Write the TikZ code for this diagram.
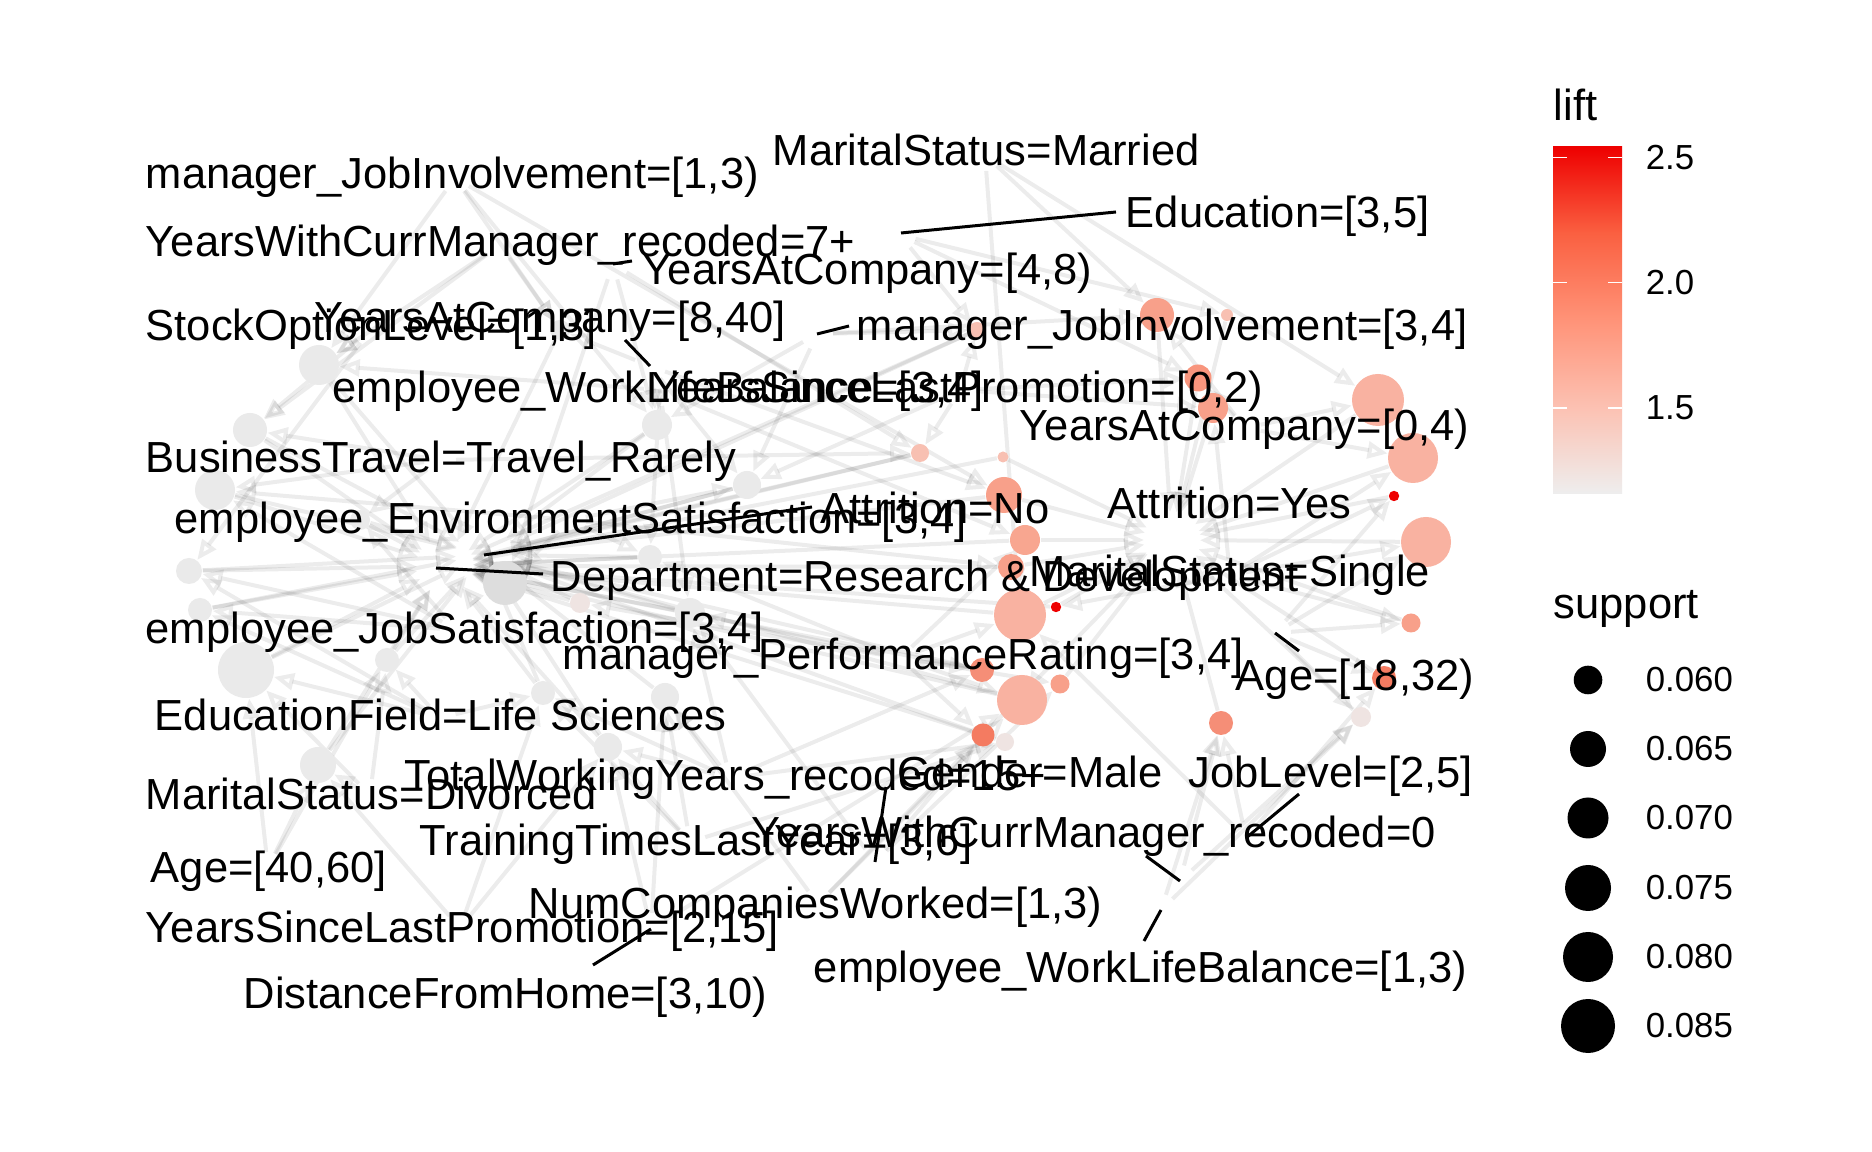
\documentclass[tikz,border=0pt]{standalone}
\usepackage{fontspec}
\setmainfont{Liberation Sans}
\usetikzlibrary{arrows.meta}
\definecolor{red0}{HTML}{EE0000}
\definecolor{cT25}{HTML}{FA6041}
\definecolor{cT50}{HTML}{FF9378}
\definecolor{cT75}{HTML}{FCC1B2}
\definecolor{cEE}{HTML}{EEEEEE}
\definecolor{s35}{HTML}{F47B61}
\definecolor{s45}{HTML}{F58E77}
\definecolor{s50}{HTML}{F8957D}
\definecolor{s55}{HTML}{F8A08A}
\definecolor{s62}{HTML}{F8A690}
\definecolor{s68}{HTML}{F9B2A1}
\definecolor{s78}{HTML}{F8C0B2}
\definecolor{s93}{HTML}{EFE4E2}
\definecolor{gry}{HTML}{EAEAEA}
\definecolor{gry2}{HTML}{DDDDDD}
\pgfdeclareverticalshading{liftbar}{100bp}{color(0bp)=(cEE); color(25bp)=(cEE); color(37.5bp)=(cT75); color(50bp)=(cT50); color(62.5bp)=(cT25); color(75bp)=(red0); color(100bp)=(red0)}
\pgfdeclarelayer{back}
\pgfdeclarelayer{bg}
\pgfsetlayers{back,bg,main}
\begin{document}
\begin{tikzpicture}[x=0.25pt,y=-0.25pt,
  lab/.style={font=\fontsize{10.875pt}{13pt}\selectfont, anchor=base west, inner sep=0pt},
  tick/.style={font=\fontsize{8.7pt}{10pt}\selectfont, anchor=west, inner sep=0pt},
  rc/.style={circle, inner sep=0pt, draw=none},
  edgeR/.style={draw=black, draw opacity=0.075, line width=1pt, shorten >=7pt, -{Triangle[open,length=5pt,width=4.2pt]}},
  edgeL/.style={draw=black, draw opacity=0.075, line width=1pt, shorten <=4pt, -{Triangle[open,length=5pt,width=4.2pt]}},
  lead/.style={draw=black, line width=0.75pt}]
\begin{pgfonlayer}{back}
\fill[white] (0,0) rectangle (1872,1152);
\end{pgfonlayer}
\useasboundingbox (0,0) rectangle (1872,1152);

% item positions
\coordinate (i1) at (455,178);
\coordinate (i2) at (985,155);
\coordinate (i3) at (900,235);
\coordinate (i4) at (500,245);
\coordinate (i5) at (613,264);
\coordinate (i6) at (370,330);
\coordinate (i7) at (650,366);
\coordinate (i8) at (817,334);
\coordinate (i9) at (660,390);
\coordinate (i10) at (960,390);
\coordinate (i11) at (1245,428);
\coordinate (i12) at (440,460);
\coordinate (i13) at (570,520);
\coordinate (i14) at (484,555);
\coordinate (i15) at (1172,540);
\coordinate (i16) at (445,566);
\coordinate (i17) at (1230,575);
\coordinate (i18) at (456,630);
\coordinate (i19) at (900,658);
\coordinate (i20) at (1275,633);
\coordinate (i21) at (440,718);
\coordinate (i22) at (730,778);
\coordinate (i23) at (875,862);
\coordinate (i24) at (1246,838);
\coordinate (i25) at (370,795);
\coordinate (i26) at (690,842);
\coordinate (i27) at (1180,881);
\coordinate (i28) at (268,868);
\coordinate (i29) at (818,904);
\coordinate (i30) at (460,928);
\coordinate (i31) at (1161,910);
\coordinate (i32) at (651,929);

% gray rule circles
\node[rc, minimum size=8.5pt, fill=gry] (G1) at (250,430) {};
\node[rc, minimum size=10pt, fill=gry] (G2) at (215,490) {};
\node[rc, minimum size=6.5pt, fill=gry] (G3) at (189,571) {};
\node[rc, minimum size=6pt, fill=gry] (G4) at (200,610) {};
\node[rc, minimum size=14pt, fill=gry] (G5) at (246,670) {};
\node[rc, minimum size=10pt, fill=gry] (G6) at (319,365) {};
\node[rc, minimum size=11pt, fill=gry2] (G7) at (505,583) {};
\node[rc, minimum size=5pt, fill=s93] (G8) at (580,603) {};
\node[rc, minimum size=6pt, fill=gry] (G9) at (543,693) {};
\node[rc, minimum size=6pt, fill=gry] (G10) at (650,557) {};
\node[rc, minimum size=7.5pt, fill=gry] (G11) at (657,425) {};
\node[rc, minimum size=7.5pt, fill=gry] (G12) at (690,613) {};
\node[rc, minimum size=9pt, fill=gry] (G13) at (318,765) {};
\node[rc, minimum size=7pt, fill=gry] (G14) at (608,747) {};
\node[rc, minimum size=7pt, fill=gry] (G15) at (665,697) {};
\node[rc, minimum size=7pt, fill=gry] (G16) at (747,485) {};
\node[rc, minimum size=6pt, fill=gry] (G17) at (387,660) {};
\node[rc, minimum size=5pt, fill=gry] (G18) at (560,330) {};
\node[rc, minimum size=5pt, fill=gry] (G19) at (360,520) {};

% coloured rule circles
\node[rc, minimum size=8.5pt, fill=s55] (R1) at (1157,315) {};
\node[rc, minimum size=3pt, fill=s78] (R2) at (1227,315) {};
\node[rc, minimum size=4pt, fill=s78] (R3) at (977,330) {};
\node[rc, minimum size=6.75pt, fill=s50] (R4) at (1198,378) {};
\node[rc, minimum size=7.5pt, fill=s55] (R5) at (1213,408) {};
\node[rc, minimum size=13pt, fill=s68] (R6) at (1378,400) {};
\node[rc, minimum size=12.5pt, fill=s68] (R7) at (1413,458) {};
\node[rc, minimum size=2.6pt, fill=red0] (R8) at (1394,496) {};
\node[rc, minimum size=12.5pt, fill=s68] (R9) at (1426,542) {};
\node[rc, minimum size=4.5pt, fill=s78] (R10) at (920,453) {};
\node[rc, minimum size=2.75pt, fill=s78] (R11) at (1003,457) {};
\node[rc, minimum size=9pt, fill=s55] (R12) at (1004,495) {};
\node[rc, minimum size=7.5pt, fill=s62] (R13) at (1025,540) {};
\node[rc, minimum size=6.5pt, fill=s55] (R14) at (1011,567) {};
\node[rc, minimum size=13pt, fill=s68] (R15) at (1020,615) {};
\node[rc, minimum size=2.6pt, fill=red0] (R16) at (1056,607) {};
\node[rc, minimum size=6pt, fill=s45] (R17) at (982,670) {};
\node[rc, minimum size=4.75pt, fill=s55] (R18) at (1060,684) {};
\node[rc, minimum size=12.5pt, fill=s68] (R19) at (1022,700) {};
\node[rc, minimum size=5.75pt, fill=s35] (R20) at (983,735) {};
\node[rc, minimum size=4.5pt, fill=s93] (R21) at (1005,742) {};
\node[rc, minimum size=6pt, fill=s45] (R22) at (1221,723) {};
\node[rc, minimum size=4.75pt, fill=s55] (R23) at (1411,623) {};
\node[rc, minimum size=6pt, fill=s35] (R24) at (1384,678) {};
\node[rc, minimum size=5pt, fill=s93] (R25) at (1361,717) {};

% background edges
\begin{pgfonlayer}{bg}
\foreach \a/\b in {G1/i16,G2/i16,G3/i16,G3/i14,G4/i16,G4/i14,G5/i16,G6/i16,G7/i16,G7/i14,G8/i14,G8/i16,G9/i16,G10/i14,G11/i16,G12/i14,G13/i16,G14/i16,G15/i14,G16/i14,G17/i16,G17/i14,G18/i16,G19/i16,G19/i14,G1/i14,G2/i14,G5/i14,G6/i14,G9/i14,G11/i14,G13/i14,G14/i14,G16/i16,G12/i16,G10/i16,R1/i15,R2/i15,R3/i14,R4/i15,R5/i15,R6/i15,R7/i15,R8/i15,R9/i15,R10/i14,R10/i16,R11/i16,R11/i15,R12/i15,R12/i14,R13/i15,R13/i16,R14/i16,R14/i15,R15/i15,R15/i16,R16/i15,R16/i16,R17/i14,R18/i15,R19/i16,R20/i15,R21/i16,R22/i15,R23/i15,R24/i15,R25/i15,R3/i16,R17/i16,R19/i14,R20/i14}
  \draw[edgeR] (\a) -- (\b);
\foreach \a/\b in {i12/G1,i6/G1,i13/G2,i18/G2,i21/G3,i18/G4,i21/G5,i25/G5,i6/G6,i9/G6,i13/G7,i19/G8,i21/G9,i22/G9,i13/G10,i9/G10,i7/G11,i9/G11,i19/G12,i22/G12,i25/G13,i28/G13,i26/G14,i30/G14,i32/G14,i22/G15,i26/G15,i8/G16,i13/G16,i4/G6,i1/G11,i5/G11,i1/G18,i7/G18,i12/G19,i18/G19,i21/G17,i25/G17,i28/G5,i30/G13,i4/G1,i12/G2,i6/G3,i18/G3,i21/G4,i9/G12,i7/G16,i26/G9,i30/G9,i32/G15,i29/G15,i22/G14,i8/G11,i5/G7,i1/G6,i4/G18,i10/G16,i19/G10,i23/G12,i28/G17,i8/R1,i11/R1,i2/R1,i3/R2,i8/R3,i10/R3,i10/R4,i11/R4,i10/R5,i17/R5,i11/R6,i11/R7,i17/R7,i17/R8,i20/R8,i17/R9,i20/R9,i10/R10,i12/R10,i19/R13,i19/R15,i2/R15,i17/R16,i19/R17,i22/R17,i19/R18,i23/R18,i29/R19,i19/R19,i32/R19,i23/R20,i19/R20,i29/R20,i22/R21,i24/R22,i27/R22,i31/R22,i20/R23,i17/R23,i20/R24,i24/R24,i20/R25,i31/R25,i27/R25,i3/R3,i5/R10,i7/R12,i1/R12,i13/R14,i9/R13,i26/R21,i24/R15,i3/R4,i2/R6}
  \draw[edgeL] (\a) -- (\b);
\end{pgfonlayer}

% leader segments
\coordinate (s1b) at (632,261);
\coordinate (s2a) at (625,340);
\coordinate (s3b) at (849,326);
\coordinate (s4b) at (1116,212);
\coordinate (s4a) at (901,233);
\coordinate (s5b) at (812,507);
\coordinate (s5a) at (484,555);
\coordinate (s6b) at (543,574);
\coordinate (s6a) at (436,568);
\coordinate (s7b) at (1299,651);
\coordinate (s8a) at (1299,794);
\coordinate (s9a) at (1146,856);
\coordinate (s10b) at (1144,941);
\coordinate (s11a) at (886,787);
\coordinate (s12b) at (593,965);
\draw[lead] (i5) -- (s1b);
\draw[lead] (s2a) -- (i7);
\draw[lead] (i8) -- (s3b);
\draw[lead] (s4a) -- (s4b);
\draw[lead] (s5a) -- (s5b);
\draw[lead] (s6a) -- (s6b);
\draw[lead] (i20) -- (s7b);
\draw[lead] (s8a) -- (i24);
\draw[lead] (s9a) -- (i27);
\draw[lead] (i31) -- (s10b);
\draw[lead] (s11a) -- (i23);
\draw[lead] (i32) -- (s12b);

% labels
\node[lab] (l1) at (145,189) {manager\_JobInvolvement=[1,3)};
\node[lab] (l2) at (772,166) {MaritalStatus=Married};
\node[lab] (l3) at (1125,228) {Education=[3,5]};
\node[lab] (l4) at (145,257) {YearsWithCurrManager\_recoded=7+};
\node[lab] (l5) at (642,285) {YearsAtCompany=[4,8)};
\node[lab] (l6) at (145,341) {StockOptionLevel=[1,3]};
\node[lab] (l7) at (314,333) {YearsAtCompany=[8,40]};
\node[lab] (l8) at (856,341) {manager\_JobInvolvement=[3,4]};
\node[lab] (l9) at (332,403) {employee\_WorkLifeBalance=[3,4]};
\node[lab] (l10) at (651,403) {YearsSinceLastPromotion=[0,2)};
\node[lab] (l11) at (1019,441) {YearsAtCompany=[0,4)};
\node[lab] (l12) at (145,473) {BusinessTravel=Travel\_Rarely};
\node[lab] (l13) at (174,534) {employee\_EnvironmentSatisfaction=[3,4]};
\node[lab] (l14) at (820,524) {Attrition=No};
\node[lab] (l15) at (1107,519) {Attrition=Yes};
\node[lab] (l16) at (550,592) {Department=Research \& Development};
\node[lab] (l17) at (1029,587) {MaritalStatus=Single};
\node[lab] (l18) at (145,644) {employee\_JobSatisfaction=[3,4]};
\node[lab] (l19) at (562,670) {manager\_PerformanceRating=[3,4]};
\node[lab] (l20) at (1235,691) {Age=[18,32)};
\node[lab] (l21) at (154,731) {EducationField=Life Sciences};
\node[lab] (l22) at (404,791) {TotalWorkingYears\_recoded=15+};
\node[lab] (l23) at (897,788) {Gender=Male};
\node[lab] (l24) at (1188,788) {JobLevel=[2,5]};
\node[lab] (l25) at (145,810) {MaritalStatus=Divorced};
\node[lab] (l26) at (419,856) {TrainingTimesLastYear=[3,6]};
\node[lab] (l27) at (751,848) {YearsWithCurrManager\_recoded=0};
\node[lab] (l28) at (150,883) {Age=[40,60]};
\node[lab] (l29) at (528,918) {NumCompaniesWorked=[1,3)};
\node[lab] (l30) at (145,943) {YearsSinceLastPromotion=[2,15]};
\node[lab] (l31) at (813,982) {employee\_WorkLifeBalance=[1,3)};
\node[lab] (l32) at (243,1008) {DistanceFromHome=[3,10)};

% legend: lift
\node[lab] (lifttitle) at (1553,121) {lift};
\shade[shading=liftbar] (1553,146.5) rectangle (1622,494);
\foreach \yy in {157.5,282.5,408} {
  \draw[white, line width=0.3pt] (1553,\yy) -- (1567,\yy);
  \draw[white, line width=0.3pt] (1608,\yy) -- (1622,\yy);
}
\node[tick] (t25) at (1645,158) {2.5};
\node[tick] (t20) at (1645,283) {2.0};
\node[tick] (t15) at (1645,408) {1.5};

% legend: support
\node[lab] (supptitle) at (1553,619) {support};
\node[rc, fill=black, minimum size=7.15pt] (k1) at (1588,680) {};
\node[rc, fill=black, minimum size=9pt] (k2) at (1588,749) {};
\node[rc, fill=black, minimum size=10.25pt] (k3) at (1588,818) {};
\node[rc, fill=black, minimum size=11.5pt] (k4) at (1588,888) {};
\node[rc, fill=black, minimum size=12.5pt] (k5) at (1588,957) {};
\node[rc, fill=black, minimum size=13.5pt] (k6) at (1588,1026) {};
\node[tick] (v1) at (1645,680) {0.060};
\node[tick] (v2) at (1645,749) {0.065};
\node[tick] (v3) at (1645,818) {0.070};
\node[tick] (v4) at (1645,888) {0.075};
\node[tick] (v5) at (1645,957) {0.080};
\node[tick] (v6) at (1645,1026) {0.085};
\end{tikzpicture}
\end{document}
